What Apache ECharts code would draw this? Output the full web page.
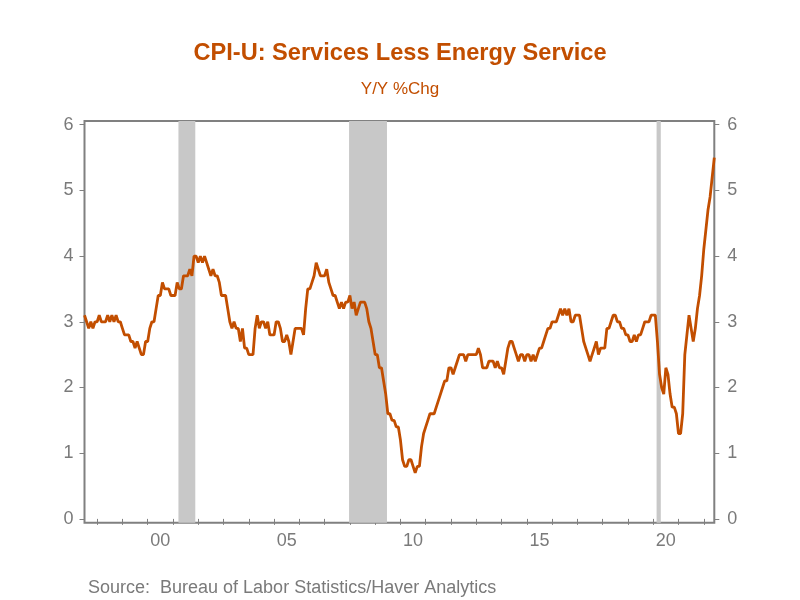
<!DOCTYPE html>
<html>
<head>
<meta charset="utf-8">
<script src="https://cdn.jsdelivr.net/npm/echarts@6/dist/echarts.min.js"></script>
<style>html,body{margin:0;padding:0;background:#fff;}#c{width:800px;height:600px;}</style>
</head>
<body>
<div id="c"></div>
<script>
// ---- data ----
const startYear = 1997, startMonth = 7; // first monthly observation: Jul 1997
const values = [
  /*1997 Jul-Dec*/ 3.1, 3.0, 2.9, 3.0, 2.9, 3.0,
  /*1998*/ 3.0, 3.1, 3.0, 3.0, 3.0, 3.1, 3.0, 3.1, 3.0, 3.1, 3.0, 3.0,
  /*1999*/ 2.9, 2.8, 2.8, 2.8, 2.7, 2.7, 2.6, 2.7, 2.6, 2.5, 2.5, 2.7,
  /*2000*/ 2.7, 2.9, 3.0, 3.0, 3.2, 3.4, 3.4, 3.6, 3.5, 3.5, 3.5, 3.4,
  /*2001*/ 3.4, 3.4, 3.6, 3.5, 3.5, 3.7, 3.7, 3.7, 3.8, 3.7, 4.0, 4.0,
  /*2002*/ 3.9, 4.0, 3.9, 4.0, 3.9, 3.8, 3.7, 3.8, 3.7, 3.7, 3.6, 3.4,
  /*2003*/ 3.4, 3.4, 3.2, 3.0, 2.9, 3.0, 2.9, 2.9, 2.7, 2.9, 2.6, 2.6,
  /*2004*/ 2.5, 2.5, 2.5, 2.9, 3.1, 2.9, 3.0, 3.0, 2.9, 3.0, 2.8, 2.8,
  /*2005*/ 2.8, 3.0, 3.0, 2.9, 2.7, 2.7, 2.8, 2.7, 2.5, 2.7, 2.9, 2.9,
  /*2006*/ 2.9, 2.9, 2.8, 3.2, 3.5, 3.5, 3.6, 3.7, 3.9, 3.8, 3.7, 3.7,
  /*2007*/ 3.7, 3.8, 3.6, 3.5, 3.4, 3.4, 3.3, 3.2, 3.3, 3.2, 3.3, 3.3,
  /*2008*/ 3.4, 3.2, 3.3, 3.1, 3.2, 3.3, 3.3, 3.3, 3.2, 3.0, 2.9, 2.7,
  /*2009*/ 2.5, 2.5, 2.3, 2.3, 2.1, 1.9, 1.6, 1.6, 1.5, 1.5, 1.4, 1.4,
  /*2010*/ 1.2, 0.9, 0.8, 0.8, 0.9, 0.9, 0.8, 0.7, 0.8, 0.8, 1.1, 1.3,
  /*2011*/ 1.4, 1.5, 1.6, 1.6, 1.6, 1.7, 1.8, 1.9, 2.0, 2.1, 2.1, 2.3,
  /*2012*/ 2.3, 2.2, 2.3, 2.4, 2.5, 2.5, 2.5, 2.4, 2.5, 2.5, 2.5, 2.5,
  /*2013*/ 2.5, 2.6, 2.5, 2.3, 2.3, 2.3, 2.4, 2.4, 2.4, 2.3, 2.4, 2.3,
  /*2014*/ 2.3, 2.2, 2.4, 2.6, 2.7, 2.7, 2.6, 2.5, 2.4, 2.5, 2.5, 2.4,
  /*2015*/ 2.5, 2.5, 2.4, 2.5, 2.4, 2.5, 2.6, 2.6, 2.7, 2.8, 2.9, 2.9,
  /*2016*/ 3.0, 3.0, 3.0, 3.1, 3.2, 3.1, 3.2, 3.1, 3.2, 3.0, 3.0, 3.1,
  /*2017*/ 3.1, 3.1, 2.9, 2.7, 2.6, 2.5, 2.4, 2.5, 2.6, 2.7, 2.5, 2.6,
  /*2018*/ 2.6, 2.6, 2.9, 2.9, 3.0, 3.1, 3.1, 3.0, 3.0, 2.9, 2.9, 2.8,
  /*2019*/ 2.8, 2.7, 2.7, 2.8, 2.7, 2.8, 2.8, 2.9, 3.0, 3.0, 3.0, 3.1,
  /*2020*/ 3.1, 3.1, 2.7, 2.2, 2.0, 1.9, 2.3, 2.2, 1.9, 1.7, 1.7, 1.6,
  /*2021*/ 1.3, 1.3, 1.6, 2.5, 2.8, 3.1, 2.9, 2.7, 2.9, 3.2, 3.4, 3.7,
  /*2022 Jan-Jun*/ 4.1, 4.4, 4.7, 4.9, 5.2, 5.5
];
const labelYears = [2000, 2005, 2010, 2015, 2020];
const yTicks = [0, 1, 2, 3, 4, 5, 6];
const recessions = [['2001-03', '2001-11'], ['2007-12', '2009-06'], ['2020-02', '2020-04']];
const titleText = 'CPI-U: Services Less Energy Service';
const subtitleText = 'Y/Y %Chg';
const sourceText = 'Source:  Bureau of Labor Statistics/Haver Analytics';

// ---- derived ----
const months = values.map((v, i) => {
  const m0 = startMonth - 1 + i;
  const y = startYear + Math.floor(m0 / 12);
  const m = (m0 % 12) + 1;
  return y + '-' + (m < 10 ? '0' : '') + m;
});
const idxOf = s => months.indexOf(s);
const tickIdx = months.map((m, i) => m.endsWith('-01') ? i : -1).filter(i => i >= 0);
const labelIdx = labelYears.map(y => idxOf(y + '-07'));
const seriesData = values.map((v, i) => [i, v]);
const recessionAreas = recessions.map(r => [{ xAxis: idxOf(r[0]) + 0.6 }, { xAxis: idxOf(r[1]) + 0.6 }]);

const FONT = 'Arial, "Liberation Sans", sans-serif';
const ORANGE = '#C24E00';
const GRAY = '#808080';
const LABEL_GRAY = '#7a7a7a';

const chart = echarts.init(document.getElementById('c'), null, { renderer: 'canvas' });
const yAxisBase = (pos, margin) => ({
  type: 'value', position: pos, min: -0.058, max: 6.056,
  axisLine: { show: false },
  splitLine: { show: false },
  axisTick: { show: true, customValues: yTicks, length: 5, lineStyle: { color: GRAY, width: 1 } },
  axisLabel: { customValues: yTicks, margin: margin, color: LABEL_GRAY, fontSize: 18, fontFamily: FONT }
});
chart.setOption({
  animation: false,
  backgroundColor: '#ffffff',
  title: [
    { text: titleText, left: 'center', top: 36, textStyle: { color: ORANGE, fontSize: 23.6, fontWeight: 'bold', fontFamily: FONT } },
    { text: subtitleText, left: 'center', top: 76, textStyle: { color: ORANGE, fontSize: 17, fontWeight: 'normal', fontFamily: FONT } },
    { text: sourceText, left: 83, top: 574, textStyle: { color: LABEL_GRAY, fontSize: 18, fontWeight: 'normal', fontFamily: FONT } }
  ],
  grid: { left: 84.5, right: 85.7, top: 121, bottom: 77.3, show: true, borderColor: GRAY, borderWidth: 2, backgroundColor: 'transparent', containLabel: false },
  xAxis: {
    type: 'value', min: 0, max: values.length - 1,
    axisLine: { show: false },
    splitLine: { show: false },
    axisTick: { show: true, customValues: tickIdx, length: 6, lineStyle: { color: GRAY, width: 1 } },
    axisLabel: {
      customValues: labelIdx, margin: 9, color: LABEL_GRAY, fontSize: 18, fontFamily: FONT,
      formatter: v => months[Math.round(v)].slice(2, 4)
    }
  },
  yAxis: [yAxisBase('left', 11), yAxisBase('right', 13)],
  series: [{
    type: 'line',
    data: seriesData,
    symbol: 'none',
    lineStyle: { color: ORANGE, width: 2.8 },
    z: 5,
    markArea: { silent: true, itemStyle: { color: '#C8C8C8' }, data: recessionAreas }
  }]
});
</script>
</body>
</html>
